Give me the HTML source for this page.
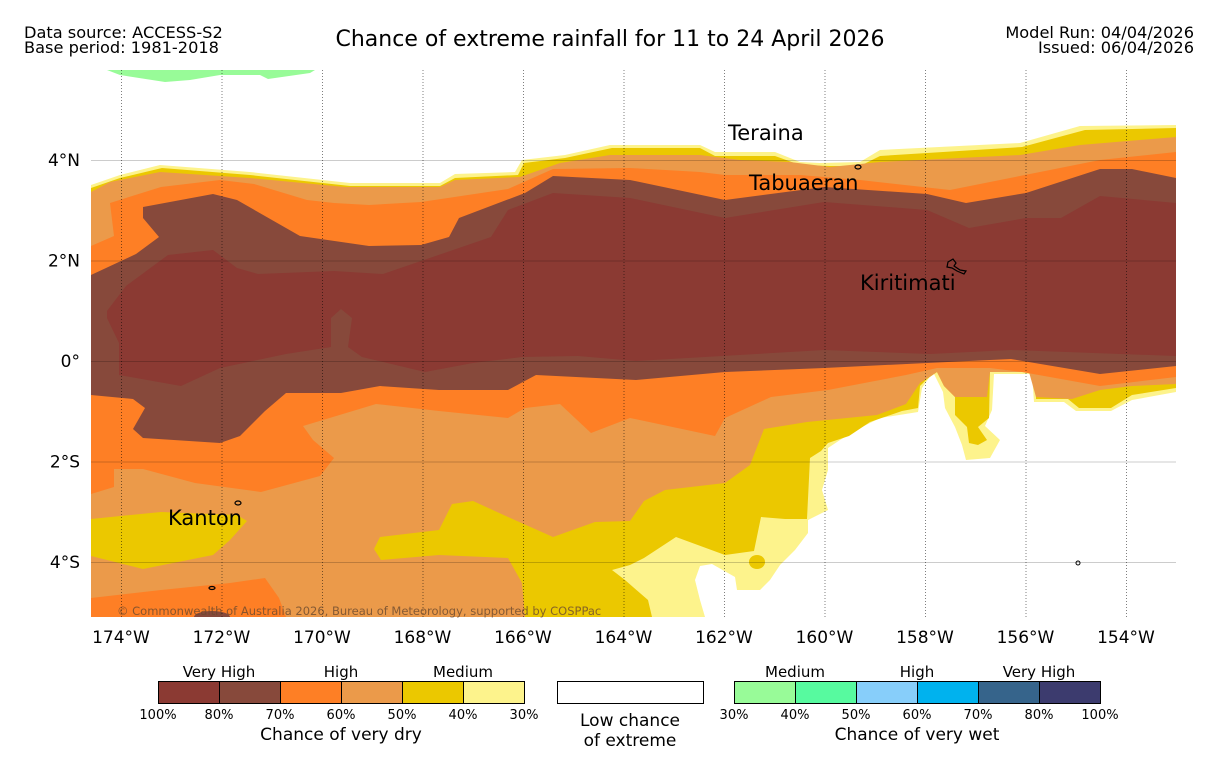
<!DOCTYPE html>
<html><head><meta charset="utf-8"><style>
body{margin:0;background:#fff;font-family:"Liberation Sans",sans-serif}
svg text{font-family:"DejaVu Sans","Liberation Sans",sans-serif}
</style></head><body>
<svg id="c" width="1219" height="758" viewBox="0 0 1219 758" xmlns="http://www.w3.org/2000/svg">
<rect width="1219" height="758" fill="#fff"/>
<text x="24" y="38" font-size="16.2">Data source: ACCESS-S2</text>
<text x="24" y="53" font-size="16.2">Base period: 1981-2018</text>
<text x="610" y="46" font-size="22" text-anchor="middle">Chance of extreme rainfall for 11 to 24 April 2026</text>
<text x="1194" y="38" font-size="16.2" text-anchor="end">Model Run: 04/04/2026</text>
<text x="1194" y="53" font-size="16.2" text-anchor="end">Issued: 06/04/2026</text>
<g id="map"></g>
<g id="grid"></g>
<g id="axes"></g>
<g id="legend"></g>
</svg>
<script>
const NS="http://www.w3.org/2000/svg";
const lonTicks=[174,172,170,168,166,164,162,160,158,156,154];
const latTicks=[4,2,0,-2,-4];
const latLabels=["4°N","2°N","0°","2°S","4°S"];
const dryColors=["#8b3a33","#87493b","#fe7f25","#eb9a4a","#ebc800","#fdf38c"];
const dryPct=["100%","80%","70%","60%","50%","40%","30%"];
const wetColors=["#98fb98","#57fa9f","#87cefa","#00b2ee","#36648b","#3c3b6e"];
const wetPct=["30%","40%","50%","60%","70%","80%","100%"];
const X0=91,X1=1176,Y0=70,Y1=617;
function lonX(w){return 121+(174-w)*50.25;}
function latY(l){return 361-l*50.25;}
const T30=[91,185,120,175,160,165,250,172,350,183,440,183,455,174,515,172,522,160,565,155,610,145,700,145,715,152,775,152,800,162,820,163,860,162,880,150,1020,143,1080,126,1176,125];
const WHITE=[1176,392,1132,400,1111,411,1076,411,1064,402,1034,402,1032,374,994,374,992,410,985,426,1000,440,990,458,966,460,962,445,955,427,945,408,943,392,933,372,922,388,918,412,880,418,860,428,840,440,828,448,828,470,822,490,828,510,808,520,808,533,795,550,780,565,770,580,760,590,737,590,735,577,712,564,700,566,695,580,700,600,705,617,1176,617];
const T40=[91,188,120,178,162,168,250,175,350,186,440,186,455,178,518,175,524,163,565,158,612,148,700,148,715,156,775,156,800,165,830,166,860,166,880,156,1022,147,1085,130,1176,128];
const B40=[1176,388,1132,395,1111,408,1079,408,1068,399,1036,399,1036,372,990,372,989,418,978,427,987,440,978,445,969,443,967,427,955,415,955,397,944,386,937,372,927,379,920,386,918,408,902,411,870,422,849,436,828,443,821,451,810,458,807,519,785,519,761,517,754,551,725,555,676,537,644,558,630,565,612,570,625,580,648,600,652,617];
const T50=[91,192,110,182,160,172,250,178,345,187,440,187,455,180,520,177,560,163,610,155,700,155,740,160,790,162,830,167,880,162,1020,155,1080,145,1176,137];
const B50=[1176,384,1132,386,1100,390,1072,399,1036,397,1029,372,990,372,987,397,955,397,944,386,937,372,920,383,906,404,877,415,807,422,764,429,750,465,725,483,665,490,644,501,630,521,595,522,553,537,508,517,473,501,452,504,439,530,380,537,374,549,381,560,439,555,508,558,522,583,525,617];
const KANTON40=[91,519,161,512,237,515,247,521,230,540,213,555,143,569,91,556];
const T60=[91,246,114,236,110,203,161,187,220,180,254,184,307,200,334,203,369,205,421,202,508,189,553,169,630,168,700,172,725,175,800,175,860,180,950,190,1000,180,1040,172,1100,160,1176,152];
const B60=[1176,377,1100,386,1022,372,990,368,937,368,906,375,828,390,771,397,725,418,715,436,630,418,591,433,560,404,525,408,508,418,439,411,376,404,303,426,313,440,334,458,320,476,261,492,195,483,143,469,114,469,114,487,91,494];
const SW60=[91,598,161,590,230,583,265,578,279,598,286,617,91,617];
const T70=[91,275,136,254,159,237,143,218,143,207,213,194,237,200,300,236,369,246,421,245,449,237,459,218,525,193,553,176,630,180,725,200,824,187,927,194,966,203,1026,193,1100,169,1132,169,1176,178];
const B70=[1176,366,1100,374,1011,359,927,363,824,368,725,372,636,380,536,375,508,390,439,390,380,386,341,393,286,393,265,411,240,436,220,443,143,438,133,429,145,408,133,399,91,395];
const T80=[107,311,126,286,168,255,213,250,237,268,258,274,334,271,383,274,421,261,491,237,508,210,553,193,630,198,725,218,824,202,927,210,969,228,1026,218,1061,218,1100,196,1176,203];
const B80=[1176,356,1011,350,930,354,824,350,636,361,578,356,522,357,473,363,425,372,362,357,348,347,352,318,341,309,331,318,331,347,286,354,220,368,181,386,119,375,119,343,107,318];
const GREEN=[107,70,120,75,165,82,190,80,220,75,260,75,268,79,310,73,315,70];
function pts(a){let s=[];for(let i=0;i<a.length;i+=2)s.push(a[i]+","+a[i+1]);return s.join(" ");}
function poly(g,arr,fill,name){const p=document.createElementNS(NS,"polygon");p.setAttribute("points",pts(arr));p.setAttribute("fill",fill);


g.appendChild(p);return p;}
function el(g,tag,attrs,name,txt){const e=document.createElementNS(NS,tag);for(const k in attrs)e.setAttribute(k,attrs[k]);if(txt!==undefined)e.textContent=txt;


g.appendChild(e);return e;}
const map=document.getElementById("map");
function band(top,bot){return top.concat(bot);}
poly(map,GREEN,wetColors[0],"wet-30-region");
poly(map,T30.concat([1176,617,91,617]),dryColors[5],"dry-30-region");
poly(map,WHITE,"#fff","low-chance-region");
poly(map,T40.concat(B40,[91,617]),dryColors[4],"dry-40-region");
el(map,"ellipse",{cx:757,cy:562,rx:8,ry:7,fill:dryColors[4]},"dry-40-blob");
poly(map,T50.concat(B50,[91,617]),dryColors[3],"dry-50-region");
poly(map,KANTON40,dryColors[4],"dry-40-kanton");
poly(map,band(T60,B60),dryColors[2],"dry-60-region");
poly(map,SW60,dryColors[2],"dry-60-southwest");
el(map,"ellipse",{cx:212,cy:617,rx:18,ry:6,fill:dryColors[1]},"dry-70-blob");
poly(map,band(T70,B70),dryColors[1],"dry-70-region");
poly(map,band(T80,B80),dryColors[0],"dry-80-region");
el(map,"ellipse",{cx:858,cy:167,rx:3,ry:2,fill:"none",stroke:"#000","stroke-width":1.2},"tabuaeran-island");
el(map,"path",{d:"M948,262 l5,-3 l3,4 l-2,3 l6,4 l6,1 l-2,3 l-7,-3 l-5,-3 l-5,-1z",fill:"none",stroke:"#000","stroke-width":1.2},"kiritimati-island");
el(map,"ellipse",{cx:238,cy:503,rx:3,ry:2,fill:"none",stroke:"#000","stroke-width":1.2},"kanton-island");
el(map,"ellipse",{cx:212,cy:588,rx:3,ry:1.5,fill:"none",stroke:"#000","stroke-width":1.2},"island");
el(map,"ellipse",{cx:1078,cy:563,rx:2,ry:2,fill:"none",stroke:"#000","stroke-width":1},"island");
el(map,"rect",{x:0,y:60,width:X0,height:570,fill:"#fff"},"mask-left");
el(map,"rect",{x:X1,y:60,width:43,height:570,fill:"#fff"},"mask-right");
el(map,"rect",{x:80,y:Y1,width:1110,height:14,fill:"#fff"},"mask-bottom");
el(map,"rect",{x:80,y:60,width:1110,height:Y0-60,fill:"#fff"},"mask-top");
const grid=document.getElementById("grid");
latTicks.forEach((l,i)=>{el(grid,"line",{x1:X0,x2:X1,y1:latY(l)+0.5,y2:latY(l)+0.5,stroke:"#000","stroke-opacity":0.2,"stroke-width":1},"lat-gridline");});
lonTicks.forEach(w=>{el(grid,"line",{x1:lonX(w)+0.5,x2:lonX(w)+0.5,y1:Y0,y2:Y1,stroke:"#000","stroke-opacity":0.5,"stroke-width":1,"stroke-dasharray":"1,2"},"lon-gridline");});
el(grid,"text",{x:728,y:140,"font-size":21},"label-teraina","Teraina");
el(grid,"text",{x:749,y:190,"font-size":21},"label-tabuaeran","Tabuaeran");
el(grid,"text",{x:860,y:290,"font-size":21},"label-kiritimati","Kiritimati");
el(grid,"text",{x:168,y:525,"font-size":21},"label-kanton","Kanton");
el(grid,"text",{x:117,y:615,"font-size":11.5,fill:"#6b4a2e","fill-opacity":0.8},"copyright","© Commonwealth of Australia 2026, Bureau of Meteorology, supported by COSPPac");
const axes=document.getElementById("axes");
latTicks.forEach((l,i)=>{el(axes,"text",{x:80,y:latY(l)+6,"font-size":17,"text-anchor":"end"},"y-tick-label",latLabels[i]);});
lonTicks.forEach(w=>{el(axes,"text",{x:lonX(w),y:643,"font-size":17,"text-anchor":"middle"},"x-tick-label",w+"°W");});
const lg=document.getElementById("legend");
const dryTitles=[["Very High",219],["High",341],["Medium",463]];
dryColors.forEach((c,i)=>{el(lg,"rect",{x:158.5+61*i,y:681.5,width:61,height:22,fill:c,stroke:"#000","stroke-width":1},"legend-dry-swatch");});
dryPct.forEach((p,i)=>{el(lg,"text",{x:158+61*i,y:719,"font-size":13,"text-anchor":"middle"},"legend-dry-pct",p);});
dryTitles.forEach(t=>{el(lg,"text",{x:t[1],y:677,"font-size":15,"text-anchor":"middle"},"legend-dry-category",t[0]);});
el(lg,"text",{x:341,y:740,"font-size":17,"text-anchor":"middle"},"legend-dry-title","Chance of very dry");
el(lg,"rect",{x:557.5,y:681.5,width:146,height:22,fill:"#fff",stroke:"#000","stroke-width":1},"legend-low-swatch");
el(lg,"text",{x:630,y:726,"font-size":17,"text-anchor":"middle"},"legend-low-label","Low chance");
el(lg,"text",{x:630,y:746,"font-size":17,"text-anchor":"middle"},"legend-low-label","of extreme");
const wetTitles=[["Medium",795],["High",917],["Very High",1039]];
wetColors.forEach((c,i)=>{el(lg,"rect",{x:734.5+61*i,y:681.5,width:61,height:22,fill:c,stroke:"#000","stroke-width":1},"legend-wet-swatch");});
wetPct.forEach((p,i)=>{el(lg,"text",{x:734+61*i,y:719,"font-size":13,"text-anchor":"middle"},"legend-wet-pct",p);});
wetTitles.forEach(t=>{el(lg,"text",{x:t[1],y:677,"font-size":15,"text-anchor":"middle"},"legend-wet-category",t[0]);});
el(lg,"text",{x:917,y:740,"font-size":17,"text-anchor":"middle"},"legend-wet-title","Chance of very wet");
</script>
</body></html>
